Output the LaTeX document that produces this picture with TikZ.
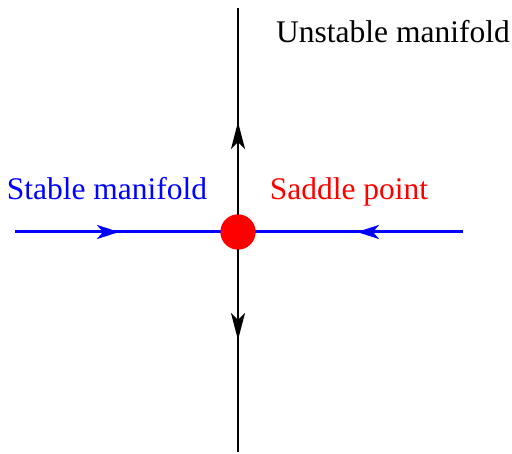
\documentclass[tikz,border=0pt]{standalone}
\usepackage{fontspec}
\setmainfont{Liberation Serif}
\usetikzlibrary{arrows.meta}
\tikzset{
  lbl/.style={font=\fontsize{31.5}{36}\selectfont, inner sep=0pt, anchor=base},
  unst/.style={line width=1.6pt, black},
  stab/.style={line width=3pt, blue},
  head/.style={-{Stealth[length=27pt 0,width=14pt 0,inset=7pt 0]}},
  shead/.style={-{Stealth[length=22pt 0,width=14pt 0,inset=6pt 0]}},
  saddle/.style={circle, fill=red, draw=none, minimum size=35pt, inner sep=0pt}
}
\begin{document}
\begin{tikzpicture}[x=1pt,y=-1pt]
\useasboundingbox (0,0) rectangle (512,454);
\coordinate (top) at (238,8);
\coordinate (bot) at (238,452);
\coordinate (lft) at (15,232);
\coordinate (rgt) at (463,232);
\coordinate (tu) at (238,122);
\coordinate (td) at (238,340);
\coordinate (tl) at (119,232);
\coordinate (tr) at (357,232);
\node[saddle] (s) at (238,232) {};
\draw[unst] (top) -- (bot);
\draw[unst, head] (s.center) -- (tu);
\draw[unst, head] (s.center) -- (td);
\draw[stab] (lft) -- (rgt);
\draw[stab, shead] (lft) -- (tl);
\draw[stab, shead] (rgt) -- (tr);
\node[saddle] at (s.center) {};
\node[lbl, black] (u) at (393,43) {Unstable manifold};
\node[lbl, blue] (st) at (107,200) {Stable manifold};
\node[lbl, red] (sp) at (349,200) {Saddle point};
\end{tikzpicture}
\end{document}
